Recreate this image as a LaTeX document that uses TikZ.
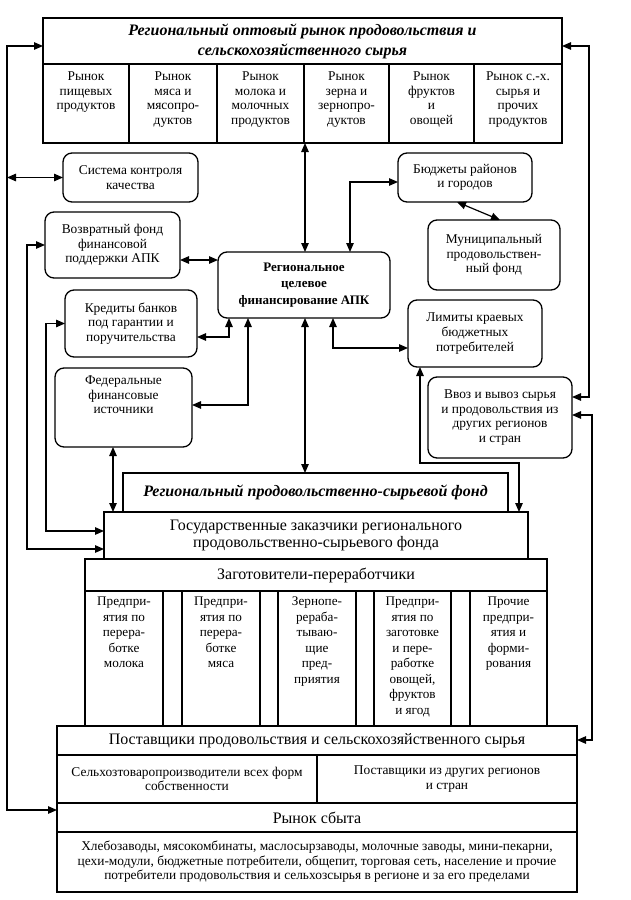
\documentclass[tikz,border=0pt]{standalone}
\usepackage{fontspec}
\setmainfont{Liberation Serif}
\usetikzlibrary{arrows.meta}
\newcommand\myfa{\fontsize{13.4pt}{14.6pt}\selectfont}
\newcommand\myfb{\fontsize{16pt}{17.5pt}\selectfont}
\newcommand\myfc{\fontsize{13.2pt}{15.5pt}\selectfont}
\newcommand\bx[7]{\node[#6,anchor=north west,minimum width={#4-#2},minimum height={#5-#3}] (#1) at (#2,#3) {#7};}
\begin{document}
\begin{tikzpicture}[x=1pt,y=-1pt,
 every node/.style={inner sep=0pt,outer sep=0pt},
 sq/.style={draw,line width=1.3pt,align=center,font=\myfa},
 rb/.style={draw,line width=1.3pt,rounded corners=9pt,align=center,font=\myfa},
 tx/.style={align=center,font=\myfa,anchor=north},
 tz/.style={align=center,font=\myfc,anchor=north},
 dbl/.style={line width=1.2pt,{Triangle[length=9pt,width=7.5pt]}-{Triangle[length=9pt,width=7.5pt]}}
]
\path[fill=white,use as bounding box] (0,0) rectangle (631,900);

% top block
\bx{toptitle}{43}{18}{562}{64}{sq,font=\bfseries\itshape\fontsize{16pt}{20pt}\selectfont}{Региональный оптовый рынок продовольствия и\\сельскохозяйственного сырья}
\bx{c1}{43}{64}{129}{143}{sq}{}
\bx{c2}{129}{64}{217}{143}{sq}{}
\bx{c3}{217}{64}{304}{143}{sq}{}
\bx{c4}{304}{64}{389}{143}{sq}{}
\bx{c5}{389}{64}{474}{143}{sq}{}
\bx{c6}{474}{64}{562}{143}{sq}{}
\node[tx] (c1t) at (86,72) {Рынок\\пищевых\\продуктов};
\node[tx] (c2t) at (173,72) {Рынок\\мяса и\\мясопро-\\дуктов};
\node[tx] (c3t) at (260.5,72) {Рынок\\молока и\\молочных\\продуктов};
\node[tx] (c4t) at (346.5,72) {Рынок\\зерна и\\зернопро-\\дуктов};
\node[tx] (c5t) at (431.5,72) {Рынок\\фруктов\\и\\овощей};
\node[tx] (c6t) at (518,72) {Рынок с.-х.\\сырья и\\прочих\\продуктов};

% rounded boxes
\bx{sys}{63}{153}{198}{202}{rb}{Система контроля\\качества}
\bx{vozv}{45}{212}{180}{278}{rb}{Возвратный фонд\\финансовой\\поддержки АПК}
\bx{kred}{65}{290}{197}{357}{rb}{Кредиты банков\\под гарантии и\\поручительства}
\bx{fed}{55}{368}{192}{447}{rb}{}
\node[tx] (fedt) at (123.5,376) {Федеральные\\финансовые\\источники};
\bx{bud}{398}{153}{532}{202}{rb}{Бюджеты районов\\и городов}
\bx{mun}{428}{220}{560}{290}{rb}{Муниципальный\\продовольствен-\\ный фонд}
\bx{rcf}{218}{252}{390}{318}{rb,font=\bfseries\fontsize{13pt}{16.5pt}\selectfont}{Региональное\\целевое\\финансирование АПК}
\bx{lim}{408}{300}{542}{367}{rb}{Лимиты краевых\\бюджетных\\потребителей}
\bx{vvoz}{428}{377}{572}{458}{rb}{Ввоз и вывоз сырья\\и продовольствия из\\других регионов\\и стран}

% lower blocks
\bx{rpsf}{123}{473}{508}{512}{sq,font=\bfseries\itshape\fontsize{16pt}{18pt}\selectfont}{Региональный продовольственно-сырьевой фонд}
\bx{gos}{104}{512}{528}{559}{sq,font=\myfb}{Государственные заказчики регионального\\продовольственно-сырьевого фонда}
\bx{zag}{85}{559}{547}{591}{sq,font=\myfb}{Заготовители-переработчики}
\bx{zc1}{85}{591}{163}{726}{sq}{}
\bx{zc2}{182}{591}{260}{726}{sq}{}
\bx{zc3}{278}{591}{356}{726}{sq}{}
\bx{zc4}{374}{591}{451}{726}{sq}{}
\bx{zc5}{470}{591}{547}{726}{sq}{}
\node[tz] (zt1) at (124,597) {Предпри-\\ятия по\\перера-\\ботке\\молока};
\node[tz] (zt2) at (221,597) {Предпри-\\ятия по\\перера-\\ботке\\мяса};
\node[tz] (zt3) at (317,597) {Зернопе-\\рераба-\\тываю-\\щие\\пред-\\приятия};
\node[tz] (zt4) at (412.5,597) {Предпри-\\ятия по\\заготовке\\и пере-\\работке\\овощей,\\фруктов\\и ягод};
\node[tz] (zt5) at (508.5,597) {Прочие\\предпри-\\ятия и\\форми-\\рования};
\bx{post}{57}{726}{577}{755}{sq,font=\myfb}{Поставщики продовольствия и сельскохозяйственного сырья}
\bx{sel}{57}{755}{317}{803}{sq}{Сельхозтоваропроизводители всех форм\\собственности}
\bx{oth}{317}{755}{577}{803}{sq}{Поставщики из других регионов\\и стран}
\bx{rs}{57}{803}{577}{832}{sq,font=\myfb}{Рынок сбыта}
\bx{list}{57}{832}{577}{892}{sq}{Хлебозаводы, мясокомбинаты, маслосырзаводы, молочные заводы, мини-пекарни,\\цехи-модули, бюджетные потребители, общепит, торговая сеть, население и прочие\\потребители продовольствия и сельхозсырья в регионе и за его пределами}

% routing coordinates
\coordinate (lA) at (7,46);
\coordinate (lB) at (7,810);
\coordinate (lC) at (27,549);
\coordinate (lD) at (46,531);
\coordinate (xF) at (113,0);
\coordinate (xM) at (305,0);
\coordinate (yV) at (0,260);
\coordinate (k1) at (229,337);
\coordinate (f1) at (248,405);
\coordinate (m1) at (333,348);
\coordinate (b1) at (350,182);
\coordinate (bm1) at (457,0);
\coordinate (bm2) at (500,0);
\coordinate (n1) at (420,463);
\coordinate (n2) at (519,463);
\coordinate (r1) at (589,46);
\coordinate (r2) at (589,397);
\coordinate (r3) at (592,415);
\coordinate (r4) at (592,740);

% connectors
\draw[dbl] (toptitle.west |- lA) -- (lA) -- (lB) -- (rs.west |- lB);
\draw[dbl] (lA |- sys.west) -- (sys.west);
\draw[dbl] (vozv.west) -| (lC) -- (gos.west |- lC);
\draw[dbl] (kred.west) -| (lD) -- (gos.west |- lD);
\draw[dbl] (fed.south -| xF) -- (gos.north -| xF);
\draw[dbl] (c3.south -| xM) -- (rcf.north -| xM);
\draw[dbl] (rcf.south -| xM) -- (rpsf.north -| xM);
\draw[dbl] (vozv.east |- yV) -- (rcf.west |- yV);
\draw[dbl] (rcf.south -| k1) -- (k1) -- (kred.east |- k1);
\draw[dbl] (rcf.south -| f1) -- (f1) -- (fed.east |- f1);
\draw[dbl] (rcf.south -| m1) -- (m1) -- (lim.west |- m1);
\draw[dbl] (rcf.north -| b1) -- (b1) -- (bud.west |- b1);
\draw[dbl] (bud.south -| bm1) -- (mun.north -| bm2);
\draw[dbl] (lim.south -| n1) -- (n1) -- (n2) -- (gos.north -| n2);
\draw[dbl] (toptitle.east |- r1) -- (r1) -- (r2) -- (vvoz.east |- r2);
\draw[dbl] (vvoz.east |- r3) -- (r3) -- (r4) -- (post.east |- r4);
\end{tikzpicture}
\end{document}
